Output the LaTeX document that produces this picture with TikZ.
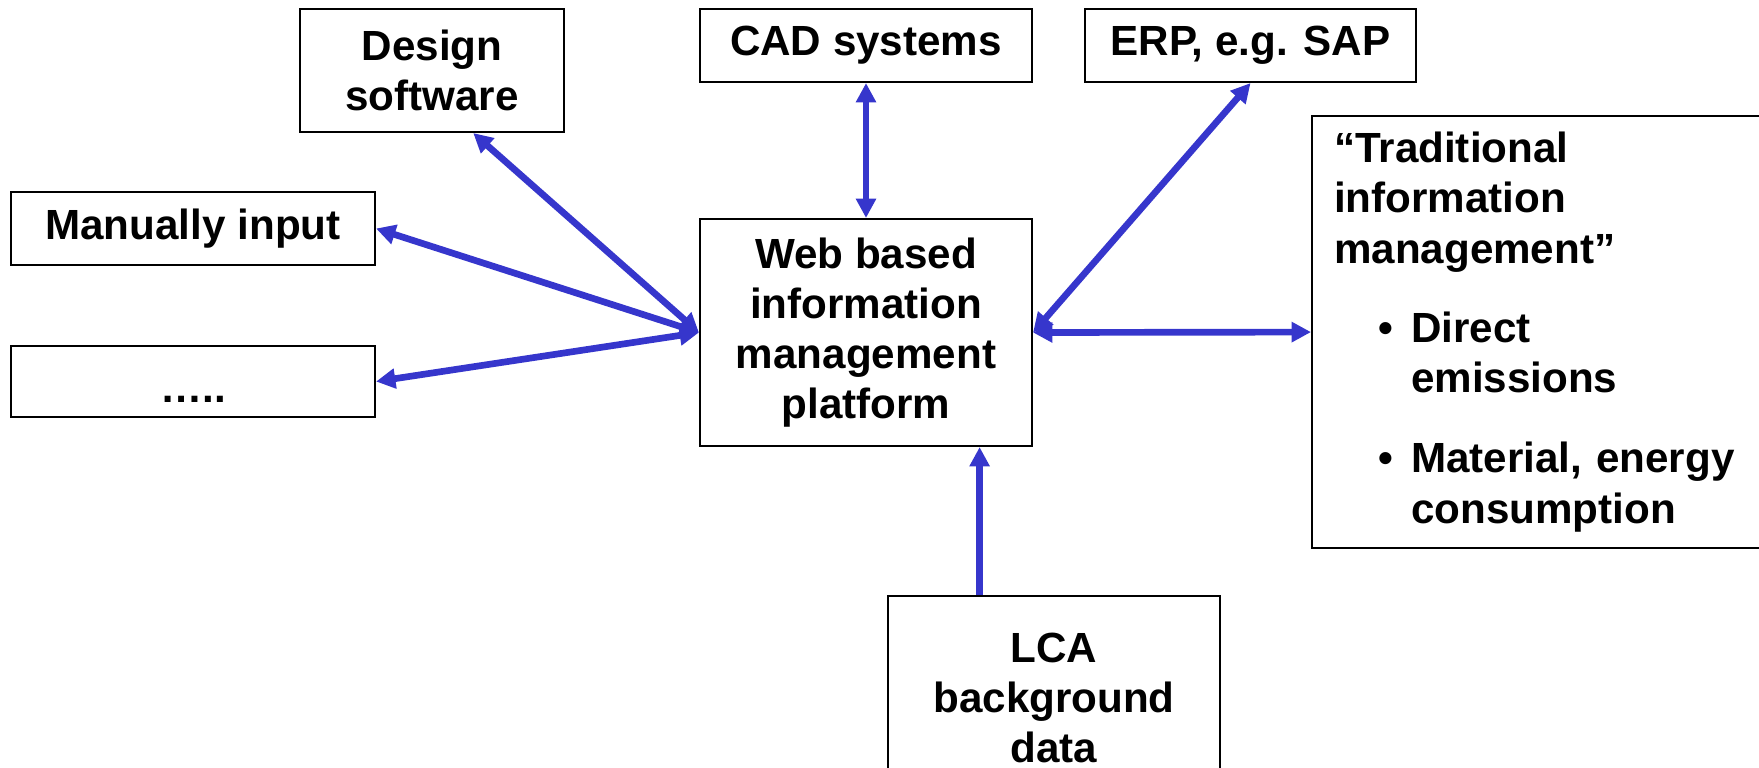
\documentclass[tikz,border=0pt]{standalone}
\usepackage{fontspec}
\setmainfont{Liberation Sans}
\usetikzlibrary{calc,arrows.meta}
\definecolor{linkblue}{RGB}{54,54,204}
\tikzset{
  box/.style={draw,line width=0.6pt,align=center,inner sep=0pt,
    font=\fontsize{12}{14.3}\selectfont\bfseries},
  link/.style={linkblue,line width=1.9pt,
    {Triangle[length=5.5pt,width=5.5pt]}-{Triangle[length=5.5pt,width=5.5pt]}},
  uplink/.style={linkblue,line width=1.9pt,-{Triangle[length=5.5pt,width=5.5pt]}}
}
\begin{document}
\begin{tikzpicture}
          \useasboundingbox (0,0) rectangle (17.59,-7.67);
          \node[box,minimum width=2.64cm,minimum height=1.23cm] (design) at (4.32,-0.705) {Design\\software};
          \node[box,minimum width=3.32cm,minimum height=0.73cm] (cad) at (8.66,-0.455) {CAD systems};
          \node[box,minimum width=3.31cm,minimum height=0.73cm] (erp) at (12.505,-0.455) {ERP, e.g. SAP};
          \node[box,minimum width=3.64cm,minimum height=0.73cm] (manual) at (1.93,-2.285) {Manually input};
          \node[box,minimum width=3.64cm,minimum height=0.71cm,text height=0.5cm,text depth=0.09cm]
            (more) at (1.93,-3.815) {…..};
          \node[box,minimum width=3.32cm,minimum height=2.27cm] (web) at (8.66,-3.325)
            {Web based\\information\\management\\platform};
          \node[box,minimum width=3.32cm,minimum height=2.04cm] (lca) at (10.54,-6.98)
            {LCA\\background\\data};
          \node[box,anchor=north west,align=left,text width=4.2cm,inner xsep=0.22cm,
            minimum width=4.64cm,minimum height=4.32cm] (trad) at (13.11,-1.15)
            {“Traditional\\information\\management”\\[0.29cm]
             \makebox[0.77cm][l]{\hspace{0.44cm}\textbullet}Direct\\
             \hspace*{0.77cm}emissions\\[0.3cm]
             \makebox[0.77cm][l]{\hspace{0.44cm}\textbullet}Material, energy\\
             \hspace*{0.77cm}consumption};
          \draw[link] ($(design.south)!0.31!(design.south east)$) -- (web.west);
          \draw[link] (manual.east) -- (web.west);
          \draw[link] (more.east) -- (web.west);
          \draw[link] (cad.south) -- (web.north);
          \draw[link] (erp.south) -- (web.east);
          \draw[link] (web.east) -- (trad.west);
          \coordinate (lcatip) at ($(web.south)!0.68!(web.south east)$);
          \draw[uplink] (lcatip |- lca.north) -- (lcatip);
        \end{tikzpicture}
\end{document}
